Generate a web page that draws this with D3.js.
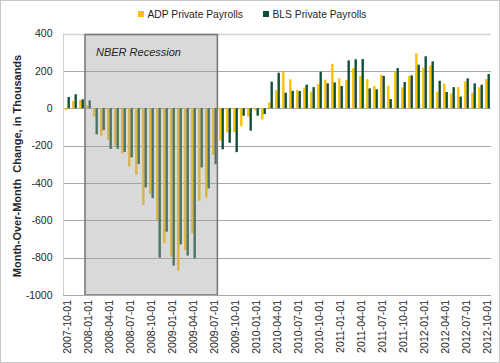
<!DOCTYPE html>
<html><head><meta charset="utf-8">
<script src="https://cdn.jsdelivr.net/npm/d3@7"></script>
<style>
html,body{margin:0;padding:0;background:#fff;}
svg{display:block;font-family:"Liberation Sans",Arial,sans-serif;}
</style></head>
<body><svg id="c" width="500" height="363"></svg>
<script>
const dates = ["2007-10-01","2007-11-01","2007-12-01","2008-01-01","2008-02-01","2008-03-01","2008-04-01","2008-05-01","2008-06-01","2008-07-01","2008-08-01","2008-09-01","2008-10-01","2008-11-01","2008-12-01","2009-01-01","2009-02-01","2009-03-01","2009-04-01","2009-05-01","2009-06-01","2009-07-01","2009-08-01","2009-09-01","2009-10-01","2009-11-01","2009-12-01","2010-01-01","2010-02-01","2010-03-01","2010-04-01","2010-05-01","2010-06-01","2010-07-01","2010-08-01","2010-09-01","2010-10-01","2010-11-01","2010-12-01","2011-01-01","2011-02-01","2011-03-01","2011-04-01","2011-05-01","2011-06-01","2011-07-01","2011-08-01","2011-09-01","2011-10-01","2011-11-01","2011-12-01","2012-01-01","2012-02-01","2012-03-01","2012-04-01","2012-05-01","2012-06-01","2012-07-01","2012-08-01","2012-09-01","2012-10-01"];
const adp = [-10,39,44,15,-45,-147,-170,-200,-242,-313,-356,-518,-460,-599,-723,-795,-870,-759,-670,-495,-477,-251,-173,-130,-128,-97,-45,-12,-60,30,97,197,155,98,111,89,130,153,237,160,152,215,173,156,119,180,121,197,112,174,294,217,228,89,131,79,113,144,83,112,156];
const bls = [60,75,48,42,-140,-117,-218,-217,-234,-263,-299,-424,-482,-800,-661,-843,-729,-789,-804,-317,-429,-300,-220,-185,-235,-40,-120,-40,-31,142,190,83,93,92,126,113,195,133,138,119,256,262,263,106,101,173,49,215,140,176,233,278,251,147,87,113,62,160,133,126,183];
const seriesNames = ["ADP Private Payrolls","BLS Private Payrolls"];
const seriesColors = ["#FFC000","#0E5034"];
const yTicks = [400,200,0,-200,-400,-600,-800,-1000];
const xTickLabels = dates.filter((d,i)=>i%3===0);
const recession = ["2008-01-01","2009-07-01"];
const recessionLabel = "NBER Recession";
const yTitle = "Month-Over-Month  Change, in Thousands";

const svg = d3.select("#c");
svg.append("rect").attr("x",0.5).attr("y",0.5).attr("width",499).attr("height",362)
  .attr("fill","#fff").attr("stroke","#c8c8c8");

const x = d3.scaleBand().domain(dates).range([64,491]).paddingInner(0.32).paddingOuter(0.16);
const xs = d3.scaleBand().domain([0,1]).range([0,x.bandwidth()]);
const y = d3.scaleLinear().domain([-1000,400]).range([295,33.5]);
const step = x.step();

// gridlines
svg.append("g").selectAll("line").data(yTicks).join("line")
  .attr("x1",63).attr("x2",491).attr("y1",d=>Math.round(y(d))+0.5).attr("y2",d=>Math.round(y(d))+0.5)
  .attr("stroke",d=>d===400?"#d4d4d4":"#a8a8a8").attr("stroke-width",d=>d===400?1.5:1);
// left axis line
svg.append("line").attr("x1",63.5).attr("x2",63.5).attr("y1",y(400)).attr("y2",y(-1000))
  .attr("stroke","#d0d0d0");

// bars
const series = [adp,bls];
series.forEach((vals,si)=>{
  svg.append("g").selectAll("rect").data(vals).join("rect")
    .attr("x",(d,i)=>x(dates[i])+xs(si))
    .attr("width",xs.bandwidth())
    .attr("y",d=>y(Math.max(0,d)))
    .attr("height",d=>Math.abs(y(d)-y(0)))
    .attr("fill",seriesColors[si]);
});

// recession box
const bx0 = x(recession[0]) - (step - x.bandwidth())/2;
const bx1 = x(recession[1]) + x.bandwidth() + 0.5;
svg.append("rect").attr("x",bx0).attr("y",y(400)+1).attr("width",bx1-bx0).attr("height",y(-1000)-y(400)-1)
  .attr("fill","#a4a4a4").attr("fill-opacity",0.42).attr("stroke","#7a7a7a").attr("stroke-width",1.6);
svg.append("text").attr("x",bx0+11).attr("y",56).text(recessionLabel)
  .attr("font-size",11).attr("font-style","italic").attr("fill","#262626");

// bottom axis line
svg.append("line").attr("x1",63).attr("x2",491).attr("y1",295.5).attr("y2",295.5).attr("stroke","#a8a8a8");

// y labels
svg.append("g").selectAll("text").data(yTicks).join("text")
  .attr("x",52.5).attr("y",d=>y(d)).attr("dy","0.35em").attr("text-anchor","end")
  .attr("font-size",10.5).attr("fill","#262626").text(d=>d);

// x labels
svg.append("g").selectAll("text").data(xTickLabels).join("text")
  .attr("transform",d=>`translate(${x(d)+x.bandwidth()/2},300) rotate(-90)`)
  .attr("dy","0.35em").attr("text-anchor","end")
  .attr("font-size",10.5).attr("fill","#262626").text(d=>d);

// y title
svg.append("text").attr("transform","translate(17,166) rotate(-90)")
  .attr("text-anchor","middle").attr("dy","0.35em").attr("font-size",11).attr("font-weight","bold")
  .attr("fill","#262626").style("white-space","pre").text(yTitle);

// legend
const legX = [138,263];
seriesNames.forEach((n,i)=>{
  svg.append("rect").attr("x",legX[i]).attr("y",11).attr("width",6).attr("height",6).attr("fill",seriesColors[i]);
  svg.append("text").attr("x",legX[i]+9.5).attr("y",18).attr("font-size",10.3).attr("fill","#262626").text(n);
});
</script></body></html>
